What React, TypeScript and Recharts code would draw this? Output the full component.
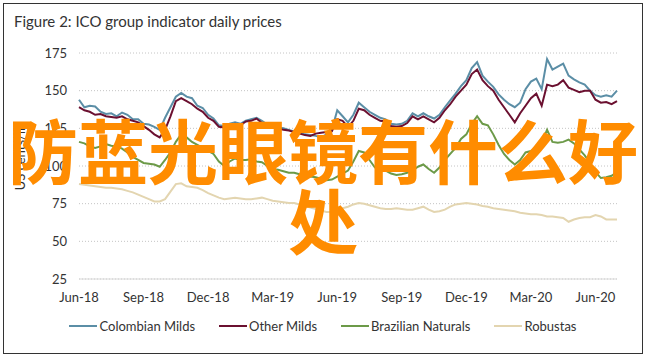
import React from "react";
import { LineChart, Line, XAxis, YAxis, CartesianGrid, Legend } from "recharts";

// weekly-ish samples, Jun-18 .. Jul-20 (index 0..100, 4 per month)
const colombian = [
  144, 139, 140, 139.5, 136, 134.5, 135, 133, 135.5, 134,
  131, 131, 128, 127.5, 126, 124, 132, 139, 146, 148.5,
  146, 145, 140, 138.5, 134, 131.5, 127, 126.5, 128, 129,
  128, 130, 131, 132, 130, 127.5, 127, 125.5, 125, 124,
  123, 122.5, 121, 120.5, 120, 119, 121, 124, 137, 133,
  129, 134, 142, 139, 136, 134, 132, 131, 128, 127.5,
  128, 130, 135, 133, 135, 133, 131.5, 134, 139, 143.5,
  148, 153, 157, 165, 169, 160, 156, 152.5, 147.5, 144,
  141, 139, 142, 151, 156, 158, 151, 171, 164, 166,
  168, 160, 157.5, 155.5, 154, 150, 147, 146, 147, 146,
  150,
];
const otherMilds = [
  139, 137, 136, 134, 134.5, 133, 132.5, 132, 133, 131,
  130, 129, 126.5, 124, 121, 119, 124, 133, 143, 145,
  143, 141, 138, 136, 132, 130, 126, 125.5, 127, 128,
  127, 129.5, 130, 131.5, 128.5, 126, 126.5, 125, 124, 123.5,
  122.5, 121.5, 120.5, 120, 121.5, 122, 122.5, 123, 131, 130,
  126, 130, 138, 137, 134, 132, 130, 129.5, 126.5, 126,
  126.5, 128.5, 133, 131, 133, 131, 129, 132, 137, 141,
  146, 150, 154, 161, 164, 157, 153, 150, 144, 139,
  134, 129, 135, 140, 145, 148, 140, 154, 153, 154,
  157, 152, 150.5, 149, 150, 150, 144, 142, 142.5, 141,
  143,
];
const brazilian = [
  116, 115, 113, 112, 113, 114.5, 113.5, 113, 111.5, 109,
  106, 104, 102, 101.5, 101, 99.5, 104, 109, 116, 121,
  119, 116, 114, 112, 110, 108, 103, 100, 103, 105,
  104, 104, 104.5, 103, 102.5, 100, 98, 97.5, 96.5, 95.5,
  95.5, 94.5, 94, 93, 92.5, 91.5, 90.5, 91, 93, 95,
  97, 103, 110, 109, 104, 99, 97.5, 97, 95, 94,
  94.5, 95.5, 97, 99.5, 101, 98, 95.5, 99, 104, 108,
  112, 118, 121, 128, 133, 128, 127, 121, 114, 108,
  104, 101, 104, 109, 110, 111.5, 115.5, 124, 116, 115.5,
  116, 117.5, 115, 111, 107, 102, 96, 92, 92.5, 93.5,
  96,
];
const robustas = [
  88, 87.5, 87, 86.5, 86, 85.5, 85.5, 85, 84.5, 83.5,
  82.5, 81, 79.5, 78, 76.5, 76.5, 78, 83, 88, 88.5,
  86.5, 86, 85.5, 84, 82, 80.5, 79, 78, 78.5, 79,
  78.5, 78, 78, 78.5, 79, 78, 77, 76.5, 76, 75.5,
  75.5, 74.5, 73.5, 72.5, 71.5, 70.5, 69.5, 69.5, 71, 72,
  73, 74.5, 75.5, 75, 74, 73, 72, 71.5, 71.5, 72,
  71.5, 71, 71, 72, 73, 71, 69.5, 70, 71, 73,
  74.5, 75, 75.5, 75, 74.5, 73.5, 73, 72, 71.5, 71,
  70.5, 70, 69, 68.5, 68, 68, 67.5, 66.5, 66.5, 66,
  65.5, 63, 64.5, 65.5, 66, 66, 67.5, 66.5, 64.5, 64.5,
  64.5,
];

const xTickIdx = [0, 12, 24, 36, 48, 60, 72, 84, 96];
const xTickLabels = ["Jun-18", "Sep-18", "Dec-18", "Mar-19", "Jun-19", "Sep-19", "Dec-19", "Mar-20", "Jun-20"];
const yTicks = [25, 50, 75, 100, 125, 150, 175];

const series = [
  { key: "colombian", name: "Colombian Milds", color: "#5b8ea6" },
  { key: "other", name: "Other Milds", color: "#6b1030" },
  { key: "brazilian", name: "Brazilian Naturals", color: "#6c9a48" },
  { key: "robustas", name: "Robustas", color: "#e3d5b0" },
];

const data = colombian.map((v, i) => ({
  i,
  colombian: v,
  other: otherMilds[i],
  brazilian: brazilian[i],
  robustas: robustas[i],
}));

const FONT = "Lato, 'Open Sans', sans-serif";

const renderLegend = () => (
  <div style={{ display: "flex", justifyContent: "center", gap: 24, height: 20, alignItems: "center", fontFamily: FONT, fontSize: 13, color: "#333" }}>
    {series.map((s) => (
      <div key={s.key} style={{ display: "flex", alignItems: "center" }}>
        <span style={{ display: "inline-block", width: 28, height: 2.5, background: s.color, marginRight: 2 }} />
        <span>{s.name}</span>
      </div>
    ))}
  </div>
);

const YLabel = () => (
  <text x={20} y={157} transform="rotate(-90 20 157)" textAnchor="middle" dominantBaseline="central"
    style={{ fontFamily: FONT, fontSize: 13, fill: "#333" }}>
    US cents/lb
  </text>
);

export default function App() {
  return (
    <div style={{ position: "absolute", left: 0, top: 0, width: 646, height: 360, background: "#fff", overflow: "hidden" }}>
      <div style={{ position: "absolute", left: 3, top: 3, width: 640, height: 351, border: "1px solid #333", boxSizing: "border-box" }} />
      <div style={{ position: "absolute", left: 14, top: 12, fontFamily: FONT, fontSize: 15, color: "#333" }}>
        Figure 2: ICO group indicator daily prices
      </div>
      <div style={{ position: "absolute", left: 0, top: 0 }}>
        <LineChart width={646} height={360} data={data} margin={{ top: 53, right: 29, bottom: 24, left: 0 }}>
          <CartesianGrid vertical={false} stroke="#c4c4c4" strokeDasharray="1 2" />
          <XAxis
            dataKey="i"
            type="number"
            domain={[0, 100]}
            ticks={xTickIdx}
            tickFormatter={(v) => xTickLabels[xTickIdx.indexOf(v)] ?? ""}
            height={37}
            stroke="#d9d9d9"
            tickLine={false}
            tickMargin={8}
            tick={{ fontSize: 13, fill: "#333", fontFamily: FONT }}
          />
          <YAxis
            type="number"
            domain={[25, 175]}
            ticks={yTicks}
            width={79}
            axisLine={false}
            tickLine={false}
            tickMargin={6}
            tick={{ fontSize: 13, fill: "#333", fontFamily: FONT }}
            label={<YLabel />}
          />
          <Legend verticalAlign="bottom" content={renderLegend} wrapperStyle={{ left: 0, width: 646 }} />
          {series.map((s) => (
            <Line key={s.key} type="linear" dataKey={s.key} name={s.name} stroke={s.color} strokeWidth={2}
              dot={false} isAnimationActive={false} />
          ))}
        </LineChart>
      </div>
      <div style={{ position: "absolute", left: 0, top: 114, width: 646, textAlign: "center", fontFamily: "'Noto Sans CJK SC', sans-serif", fontWeight: 700, fontSize: 70, lineHeight: "70px", color: "#ff8c00", pointerEvents: "none" }}>
        防蓝光眼镜有什么好处
      </div>
    </div>
  );
}
